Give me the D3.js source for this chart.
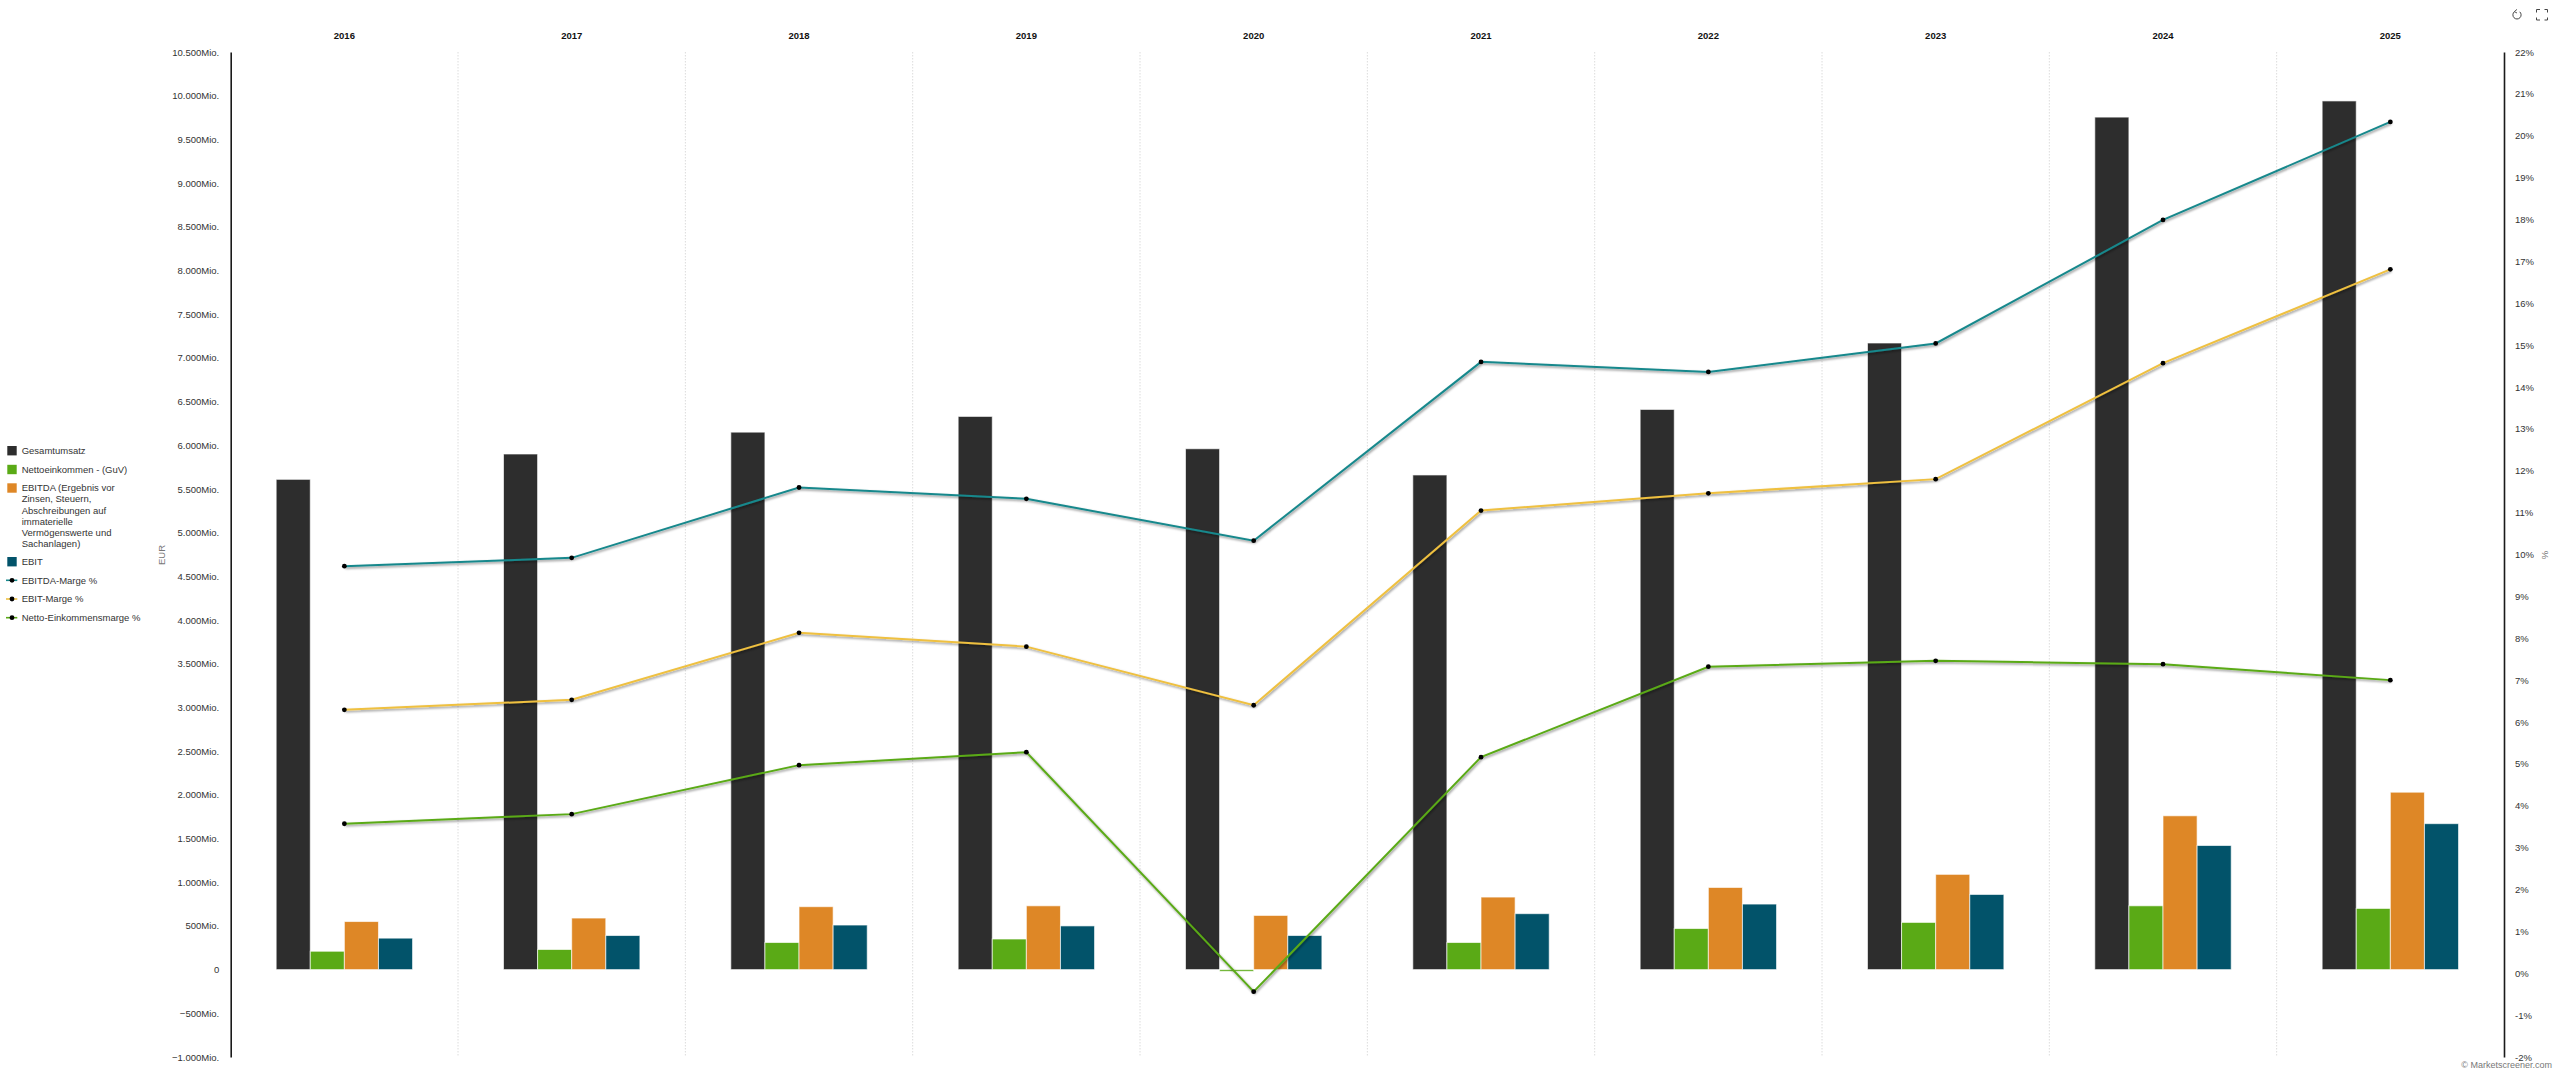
<!DOCTYPE html>
<html lang="de">
<head>
<meta charset="utf-8">
<title>Finanzkennzahlen</title>
<script src="https://cdn.jsdelivr.net/npm/d3@7/dist/d3.min.js"></script>
<style>
html,body{margin:0;padding:0;background:#fff;overflow:hidden}
svg{display:block}
text{font-family:"Liberation Sans",Arial,sans-serif;font-size:9.5px;fill:#333}
.axis path{stroke:#1a1a1a;stroke-width:1.6px;fill:none}
.axis .tick line{display:none}
.years text{font-weight:bold;fill:#111}
</style>
</head>
<body>
<script>
const years = ["2016","2017","2018","2019","2020","2021","2022","2023","2024","2025"];
// values in Mio. EUR
const gesamtumsatz = [5610,5900,6150,6330,5960,5660,6410,7170,9755,9940];
const nettoeinkommen = [210,230,310,350,-20,310,470,540,730,700];
const ebitda = [550,590,720,730,620,830,940,1090,1760,2030];
const ebit = [360,390,510,500,390,640,750,860,1420,1670];
// values in %
const ebitdaMarge = [9.72,9.92,11.6,11.33,10.33,14.6,14.36,15.04,17.99,20.33];
const ebitMarge = [6.29,6.53,8.13,7.8,6.4,11.05,11.46,11.8,14.57,16.81];
const nettoMarge = [3.57,3.8,4.97,5.28,-0.44,5.16,7.32,7.46,7.38,7.0];
const leftTicks = d3.range(-1000,10501,500);
const rightTicks = d3.range(-2,23,1);
const barNames = ["Gesamtumsatz","Nettoeinkommen - (GuV)","EBITDA (Ergebnis vor Zinsen, Steuern, Abschreibungen auf immaterielle Vermögenswerte und Sachanlagen)","EBIT"];
const lineNames = ["EBITDA-Marge %","EBIT-Marge %","Netto-Einkommensmarge %"];
const barColors = ["#2d2d2d","#5aaa16","#de8726","#02536a"];
const lineColors = ["#17888c","#efc03f","#5aaa16"];

const W=2560,H=1072,L=230.7,R=2504,T=52,B=1057;
const svg=d3.select("body").append("svg").attr("width",W).attr("height",H).attr("viewBox",`0 0 ${W} ${H}`);
const defs=svg.append("defs");
const f=defs.append("filter").attr("id","ls").attr("x","-5%").attr("y","-20%").attr("width","110%").attr("height","140%");
f.append("feDropShadow").attr("dx",1).attr("dy",1.5).attr("stdDeviation",1.3).attr("flood-color","#000").attr("flood-opacity",0.45);

const xBand=d3.scaleBand().domain(years).range([L,R]);
const bw=xBand.bandwidth();
const inner=d3.scaleBand().domain(d3.range(4)).range([bw*0.2,bw*0.8]);
const yL=d3.scaleLinear().domain([-1000,10500]).range([B,T]);
const yR=d3.scaleLinear().domain([-2,22]).range([B,T]);

// grid
svg.append("g").selectAll("line").data(years.slice(1)).join("line")
 .attr("x1",d=>xBand(d)).attr("x2",d=>xBand(d)).attr("y1",T).attr("y2",B)
 .attr("stroke","#dcdcdc").attr("stroke-width",1).attr("stroke-dasharray","1.5 1.5");

// year labels
const gTop=svg.append("g").attr("class","years").attr("transform","translate(0,38.5)").call(d3.axisTop(xBand).tickSize(0).tickPadding(0));
gTop.select("path").remove();

// axes
const de=d3.formatLocale({decimal:",",thousands:".",grouping:[3],currency:["",""]});
const fmt=de.format(",d");
svg.append("g").attr("class","axis").attr("transform",`translate(${L},0)`)
 .call(d3.axisLeft(yL).tickValues(leftTicks).tickSize(0).tickSizeOuter(0).tickPadding(11.5)
 .tickFormat(d=>d===0?"0":fmt(d)+"Mio."));
svg.append("g").attr("class","axis").attr("transform",`translate(${R},0)`)
 .call(d3.axisRight(yR).tickValues(rightTicks).tickSize(0).tickSizeOuter(0).tickPadding(11)
 .tickFormat(d=>d+"%"));

svg.append("text").attr("transform",`translate(165,555) rotate(-90)`).attr("text-anchor","middle").style("fill","#777").text("EUR");
svg.append("text").attr("transform",`translate(2542,555) rotate(90)`).attr("text-anchor","middle").style("fill","#777").text("%");

// bars
[gesamtumsatz,nettoeinkommen,ebitda,ebit].forEach((vals,i)=>{
 svg.append("g").selectAll("rect").data(vals).join("rect")
  .attr("x",(d,k)=>xBand(years[k])+inner(i))
  .attr("width",inner.bandwidth())
  .attr("y",d=>Math.min(yL(d),yL(0)))
  .attr("height",d=>Math.abs(yL(d)-yL(0)))
  .attr("fill",barColors[i])
  .attr("stroke","#fff").attr("stroke-opacity",0.65).attr("stroke-width",1);
});

// lines
const lineGen=d3.line().x((d,k)=>xBand(years[k])+bw/2).y(d=>yR(d));
[ebitdaMarge,ebitMarge,nettoMarge].forEach((vals,i)=>{
 svg.append("path").attr("d",lineGen(vals)).attr("fill","none")
  .attr("stroke",lineColors[i]).attr("stroke-width",2).attr("filter","url(#ls)");
});
[ebitdaMarge,ebitMarge,nettoMarge].forEach(vals=>{
 svg.append("g").selectAll("circle").data(vals).join("circle")
  .attr("cx",(d,k)=>xBand(years[k])+bw/2).attr("cy",d=>yR(d)).attr("r",2.4).attr("fill","#000");
});

// legend
const barLegendLines=[["Gesamtumsatz"],["Nettoeinkommen - (GuV)"],
 ["EBITDA (Ergebnis vor","Zinsen, Steuern,","Abschreibungen auf","immaterielle","Vermögenswerte und","Sachanlagen)"],["EBIT"]];
const barLegendY=[450.7,469.5,488,561.7];
const lg=svg.append("g");
barNames.forEach((n,i)=>{
 const y0=barLegendY[i];
 lg.append("rect").attr("x",7.3).attr("y",y0-4.7).attr("width",9.4).attr("height",9.4).attr("fill",barColors[i]);
 const t=lg.append("text").attr("x",21.7).attr("y",y0);
 barLegendLines[i].forEach((s,j)=>t.append("tspan").attr("x",21.7).attr("dy",j?11.1:"0.35em").text(s));
});
const lineLegendY=[580.3,599,617.7];
lineNames.forEach((n,i)=>{
 const y0=lineLegendY[i];
 lg.append("line").attr("x1",6).attr("x2",17.3).attr("y1",y0).attr("y2",y0).attr("stroke",lineColors[i]).attr("stroke-width",1.6);
 lg.append("circle").attr("cx",12).attr("cy",y0).attr("r",2.4).attr("fill","#000");
 lg.append("text").attr("x",21.7).attr("y",y0).attr("dy","0.35em").text(n);
});

// attribution
svg.append("text").attr("x",2552).attr("y",1068).attr("text-anchor","end").style("font-size","9px").style("fill","#777").text("© Marketscreener.com");

// toolbar icons
const ic=svg.append("g").attr("fill","none").attr("stroke","#444").attr("stroke-width",1);
ic.append("path").attr("d","M2514.3 11.8 A4.1 4.1 0 1 0 2519.7 11.8");
ic.append("path").attr("d","M2517 9.4 L2514.3 11.6 L2517 13").attr("stroke-width",0.9);
ic.append("path").attr("d","M2536.5 12.5V9.5H2540 M2544.5 9.5H2547.5V12.5 M2547.5 17.5V20H2544.5 M2540 20H2536.5V17.5");
</script>
</body>
</html>
